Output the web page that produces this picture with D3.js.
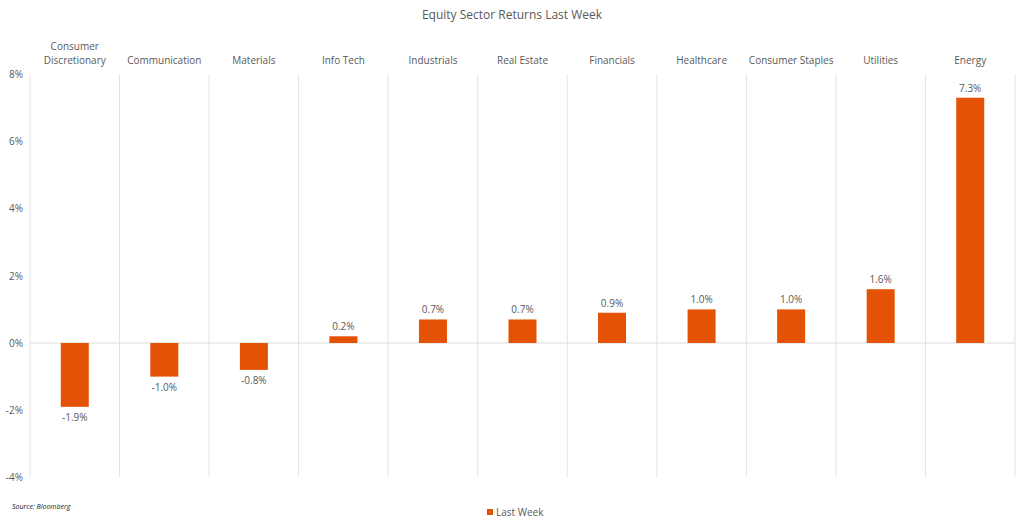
<!DOCTYPE html>
<html><head><meta charset="utf-8">
<script src="https://cdn.jsdelivr.net/npm/d3@7"></script>
<style>
body{margin:0;background:#fff;}
svg{font-family:"Open Sans",sans-serif;}
</style></head>
<body><svg id="c" width="1024" height="527"></svg>
<script>
const categories = ["Consumer Discretionary","Communication","Materials","Info Tech","Industrials","Real Estate","Financials","Healthcare","Consumer Staples","Utilities","Energy"];
const values = [-1.9,-1.0,-0.8,0.2,0.7,0.7,0.9,1.0,1.0,1.6,7.3];
const yTicks = [-4,-2,0,2,4,6,8];
const seriesName = "Last Week";

const svg = d3.select("#c");
const W=1024,H=527;
const m={l:30,r:9,t:74,b:50};
const x = d3.scaleBand().domain(categories).range([m.l,W-m.r]).paddingInner(0).paddingOuter(0);
const y = d3.scaleLinear().domain([-4,8]).range([477.4,74.2]);
const color="#E35205", txt="#595959";

svg.append("text").attr("x",512).attr("y",19).attr("text-anchor","middle")
  .attr("font-size",12).attr("fill",txt).text("Equity Sector Returns Last Week");

// vertical separators
const seps = categories.map((c,i)=>x(c)).concat([x.range()[1]]);
svg.append("g").selectAll("line").data(seps).join("line")
  .attr("x1",d=>d).attr("x2",d=>d).attr("y1",y(8)).attr("y2",y(-4))
  .attr("stroke","#e3e3e3").attr("stroke-width",1);
// zero line
svg.append("line").attr("x1",x.range()[0]).attr("x2",x.range()[1]).attr("y1",y(0)).attr("y2",y(0))
  .attr("stroke","#dcdcdc").attr("stroke-width",1);

// y axis labels
const yAxis = d3.axisLeft(y).tickValues(yTicks).tickSize(0).tickPadding(0).tickFormat(d=>d+"%");
const ga = svg.append("g").attr("transform",`translate(${m.l-7},0)`).call(yAxis);
ga.select(".domain").remove();
ga.selectAll("text").attr("font-size",10).attr("fill",txt).attr("font-family","'Open Sans',sans-serif");

// category labels at top
const xAxis = d3.axisTop(x).tickSize(0).tickPadding(0);
const gx = svg.append("g").attr("transform",`translate(0,64)`).call(xAxis);
gx.select(".domain").remove();
gx.selectAll("text").attr("font-size",10).attr("fill",txt).attr("font-family","'Open Sans',sans-serif")
  .each(function(d){
    const t=d3.select(this);
    if(d==="Consumer Discretionary"){
      t.text(null);
      t.append("tspan").attr("x",0).attr("dy","-1.4em").text("Consumer");
      t.append("tspan").attr("x",0).attr("dy","1.4em").text("Discretionary");
    }
  });

// bars
const bw=28;
const data = categories.map((c,i)=>({c,v:values[i]}));
svg.append("g").selectAll("rect").data(data).join("rect")
  .attr("x",d=>x(d.c)+x.bandwidth()/2-bw/2).attr("width",bw)
  .attr("y",d=>y(Math.max(0,d.v))).attr("height",d=>Math.abs(y(d.v)-y(0)))
  .attr("fill",color);

// data labels
svg.append("g").selectAll("text").data(data).join("text")
  .attr("x",d=>x(d.c)+x.bandwidth()/2)
  .attr("y",d=>d.v>=0? y(d.v)-6 : y(d.v)+14)
  .attr("text-anchor","middle").attr("font-size",10).attr("fill",txt)
  .text(d=>d.v.toFixed(1)+"%");

// source
svg.append("text").attr("x",12).attr("y",509).attr("font-size",7).attr("font-style","italic")
  .attr("fill","#222").text("Source: Bloomberg");

// legend
svg.append("rect").attr("x",487).attr("y",509).attr("width",6).attr("height",6).attr("fill",color);
svg.append("text").attr("x",496).attr("y",516).attr("font-size",10).attr("fill",txt).text(seriesName);
</script></body></html>
